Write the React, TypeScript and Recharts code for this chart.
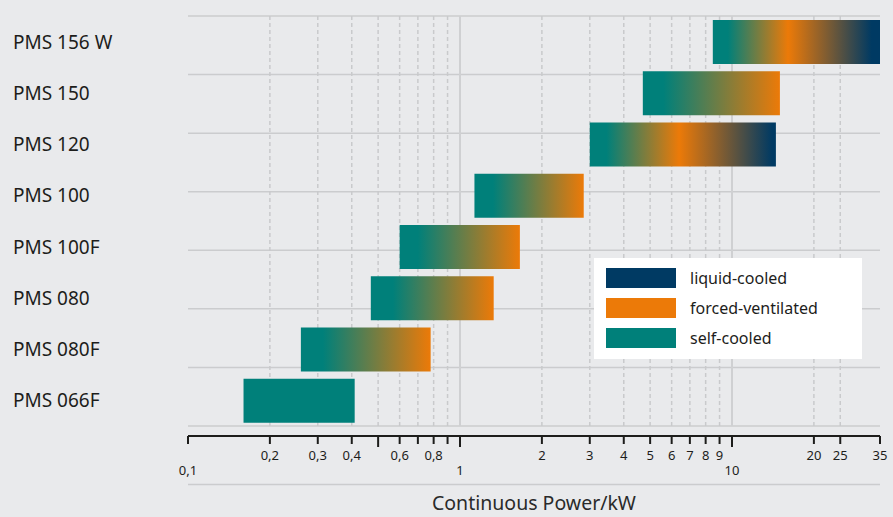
import { Bar, BarChart, CartesianGrid, Cell, Legend, XAxis, YAxis } from 'recharts';

// motor models, top to bottom
const models = ['PMS 156 W', 'PMS 150', 'PMS 120', 'PMS 100', 'PMS 100F', 'PMS 080', 'PMS 080F', 'PMS 066F'];
// continuous power range in kW
const minPower = [8.5, 4.7, 3.0, 1.13, 0.6, 0.47, 0.26, 0.16];
const maxPower = [35, 15, 14.5, 2.85, 1.66, 1.33, 0.78, 0.41];

const powerTicks = [0.1, 0.2, 0.3, 0.4, 0.5, 0.6, 0.7, 0.8, 0.9, 1, 2, 3, 4, 5, 6, 7, 8, 9, 10, 20, 25, 35];
const unlabeledTicks = [0.5, 0.7, 0.9];
const lowerTicks = [0.1, 1, 10];
const longTicks = [0.5, 1, 10];
const solidGridTicks = [1, 10];

const legendNames = ['liquid-cooled', 'forced-ventilated', 'self-cooled'];

const TEAL = '#00807a';
const ORANGE = '#ec7a08';
const NAVY = '#003a63';
const INK = '#1d1d1b';
const legendColors = [NAVY, ORANGE, TEAL];

// colour stops of each bar, left to right (same order as models)
const barStops: [number, string][][] = [
  [[0, TEAL], [0.09, TEAL], [0.45, ORANGE], [0.95, NAVY], [1, NAVY]],
  [[0, TEAL], [0.15, TEAL], [1, ORANGE]],
  [[0, TEAL], [0.09, TEAL], [0.48, ORANGE], [0.98, NAVY], [1, NAVY]],
  [[0, TEAL], [0.17, TEAL], [1, ORANGE]],
  [[0, TEAL], [0.15, TEAL], [1, ORANGE]],
  [[0, TEAL], [0.18, TEAL], [1, ORANGE]],
  [[0, TEAL], [0.17, TEAL], [1, ORANGE]],
  [[0, TEAL], [1, TEAL]],
];

const data = models.map((model, i) => ({ model, range: [minPower[i], maxPower[i]] }));
const rowEdges = models.map((_, i) => i).concat(models.length);

const FONT = '"Noto Sans", sans-serif';

function PowerTick(props: any) {
  const { x, y, payload } = props;
  const v = payload.value;
  const len = longTicks.includes(v) ? 11 : 8;
  const lower = lowerTicks.includes(v);
  return (
    <g>
      <line x1={x} x2={x} y1={y + 10} y2={y + 10 + len} stroke={INK} strokeWidth={2} />
      {!unlabeledTicks.includes(v) && (
        <text x={x} y={y + (lower ? 49 : 34)} textAnchor="middle" fontSize={13} fill={INK} fontFamily={FONT}>
          {String(v).replace('.', ',')}
        </text>
      )}
    </g>
  );
}

function ModelTick(props: any) {
  const { y, payload } = props;
  return (
    <text x={13} y={y} dy={7} fontSize={19} fill={INK} fontFamily={FONT}>
      {payload.value}
    </text>
  );
}

function gridLine(props: any) {
  const { x1, x2, y1, y2, index } = props;
  const v = powerTicks[index];
  if (v === undefined || index === 0 || index === powerTicks.length - 1) return <g key={props.key} />;
  const solid = solidGridTicks.includes(v);
  return (
    <line
      key={props.key}
      x1={x1}
      x2={x2}
      y1={y1}
      y2={y2}
      stroke={solid ? '#cfd0d2' : '#c9cacc'}
      strokeWidth={solid ? 2 : 1.5}
      strokeDasharray={solid ? undefined : '4 3'}
    />
  );
}

function LegendBox() {
  return (
    <div style={{ background: '#fff', width: 268, height: 101, boxSizing: 'border-box', padding: '5px 12px' }}>
      {legendNames.map((name, i) => (
        <div key={name} style={{ display: 'flex', alignItems: 'center', height: 30 }}>
          <div style={{ width: 70, height: 20, background: legendColors[i], marginRight: 14 }} />
          <span style={{ fontFamily: FONT, fontSize: 16, color: INK }}>{name}</span>
        </div>
      ))}
    </div>
  );
}

export default function App() {
  return (
    <div style={{ position: 'absolute', left: 0, top: 0, width: 893, height: 517, background: '#e9eaec' }}>
      <BarChart
        width={893}
        height={517}
        layout="vertical"
        data={data}
        margin={{ top: 16, right: 13, bottom: 0, left: 0 }}
        barSize={44}
      >
        <defs>
          {barStops.map((stops, i) => (
            <linearGradient id={`bar-${i}`} key={i} x1="0" y1="0" x2="1" y2="0">
              {stops.map(([o, c], j) => (
                <stop key={j} offset={o} stopColor={c} />
              ))}
            </linearGradient>
          ))}
        </defs>
        <CartesianGrid yAxisId="rows" stroke="#cbccce" strokeWidth={1.5} vertical={gridLine} />
        <XAxis
          type="number"
          scale="log"
          domain={[0.1, 35]}
          allowDataOverflow
          ticks={powerTicks}
          interval={0}
          height={91}
          tickSize={0}
          tickMargin={0}
          tickLine={false}
          axisLine={{ stroke: INK, strokeWidth: 2, transform: 'translate(0 10)' }}
          tick={<PowerTick />}
          label={{
            value: 'Continuous Power/kW',
            position: 'insideBottom',
            offset: 7,
            fontSize: 19.5,
            fill: '#2a2a2a',
            fontFamily: FONT,
          }}
        />
        <YAxis
          yAxisId="models"
          type="category"
          dataKey="model"
          width={188}
          axisLine={false}
          tickLine={false}
          interval={0}
          tick={<ModelTick />}
        />
        <YAxis yAxisId="rows" type="number" domain={[0, models.length]} allowDataOverflow ticks={rowEdges} hide />
        <Bar yAxisId="models" dataKey="range" isAnimationActive={false}>
          {data.map((_, i) => (
            <Cell key={i} fill={`url(#bar-${i})`} />
          ))}
        </Bar>
        <Legend
          layout="horizontal"
          verticalAlign="middle"
          align="center"
          wrapperStyle={{ left: 594, top: 258, width: 268, height: 101 }}
          content={() => <LegendBox />}
        />
      </BarChart>
    </div>
  );
}
